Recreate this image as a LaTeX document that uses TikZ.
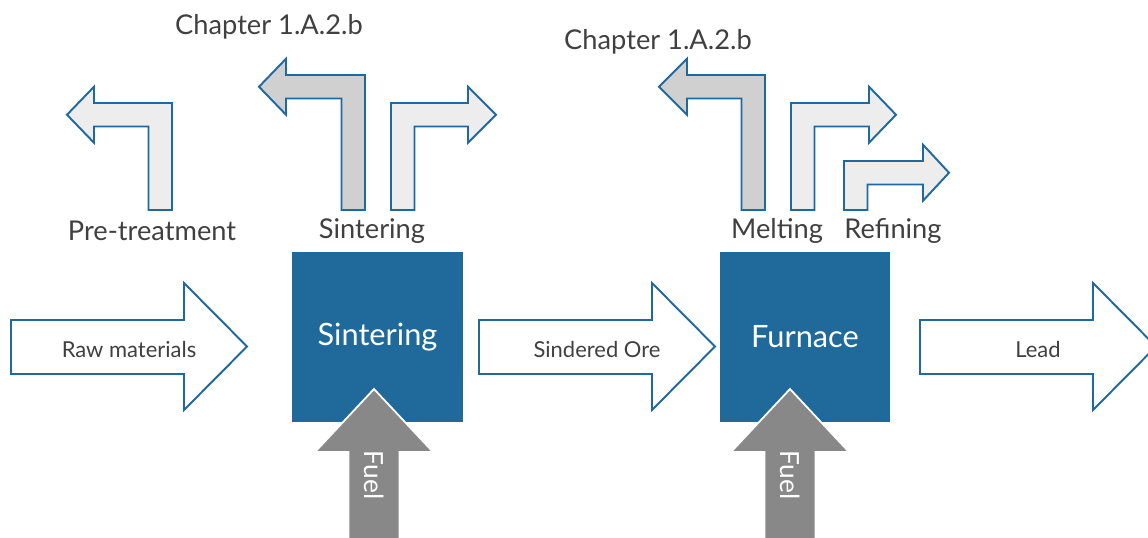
\documentclass[tikz,border=0pt]{standalone}
\usepackage{fontspec}
\setmainfont{Lato}
\usepackage{tikz}
\usetikzlibrary{positioning}
\definecolor{procblue}{HTML}{1F6A9A}
\definecolor{edgeblue}{HTML}{2068A0}
\definecolor{lightfill}{HTML}{EDEDED}
\definecolor{chapfill}{HTML}{D0D0D0}
\definecolor{fuelgray}{HTML}{888888}
\definecolor{txtgray}{HTML}{404040}

\begin{document}
\begin{tikzpicture}[x=0.02cm, y=-0.02cm,
  flowarrow/.style={draw=edgeblue, line width=1.1pt, fill=white, line join=miter},
  bentarrow/.style={draw=edgeblue, line width=1.1pt, line join=miter},
  process/.style={fill=procblue, text=white, minimum width=3.42cm, minimum height=3.4cm,
    inner sep=0pt, font=\fontsize{17.5}{20}\selectfont},
  fuelarrow/.style={fill=fuelgray, draw=white, line width=1pt},
  flowlabel/.style={text=txtgray, font=\fontsize{12.5}{14}\selectfont},
  steplabel/.style={text=txtgray, font=\fontsize{15.5}{18}\selectfont}]
  \useasboundingbox (0,0) rectangle (1148,537);

  % Main flow arrows
  \foreach \a/\name/\txt in {11/raw/Raw materials, 479/ore/Sindered Ore, 920/lead/Lead} {
    \draw[flowarrow] (\a,320) -- (\a+173,320) -- (\a+173,283) -- (\a+236,346.5)
      -- (\a+173,410) -- (\a+173,374) -- (\a,374) -- cycle;
    \node[flowlabel] (\name) at (\a+118,349) {\txt};
  }

  % Process boxes
  \node[process] (sinter) at (377.5,337) {\raisebox{-0.1em}{Sintering}};
  \node[process] (furnace) at (805,337) {Furnace};

  % Fuel inputs
  \foreach \c/\name in {374/fuelA, 790/fuelB} {
    \draw[fuelarrow] (\c,389) -- (\c+59,452) -- (\c+25.5,452) -- (\c+25.5,545)
      -- (\c-25.5,545) -- (\c-25.5,452) -- (\c-59,452) -- cycle;
    \node[text=white, rotate=-90, font=\fontsize{15}{17}\selectfont] (\name) at (\c,475) {Fuel};
  }

  % Bent arrows pointing left (right edge, top, head back, tip, fill)
  \foreach \r/\t/\h/\p/\col in {172/103/94/67/lightfill, 365/75/286/259/chapfill, 765/75/687/659/chapfill} {
    \draw[bentarrow, fill=\col] (\r,210) -- (\r,\t) -- (\h,\t) -- (\h,\t-16.25)
      -- (\p,\t+11.75) -- (\h,\t+39.75) -- (\h,\t+23.5) -- (\r-23.5,\t+23.5)
      -- (\r-23.5,210) -- cycle;
  }

  % Bent arrows pointing right (left edge, top, head back, tip)
  \foreach \l/\t/\h/\p in {391/103/468/496, 791/103/869/896, 844/161/923/949} {
    \draw[bentarrow, fill=lightfill] (\l,210) -- (\l,\t) -- (\h,\t) -- (\h,\t-16.25)
      -- (\p,\t+11.75) -- (\h,\t+39.75) -- (\h,\t+23.5) -- (\l+23.5,\t+23.5)
      -- (\l+23.5,210) -- cycle;
  }

  % Step labels
  \node[steplabel] (pretreat) at (152,231) {Pre-treatment};
  \node[steplabel] (sinterlab) at (372,231) {Sintering};
  \node[steplabel] (meltlab) at (777,231) {Melting};
  \node[steplabel] (refinelab) at (893,231) {Refining};
  \node[steplabel] (chapA) at (269,27) {Chapter 1.A.2.b};
  \node[steplabel] (chapB) at (658,42) {Chapter 1.A.2.b};
\end{tikzpicture}
\end{document}
